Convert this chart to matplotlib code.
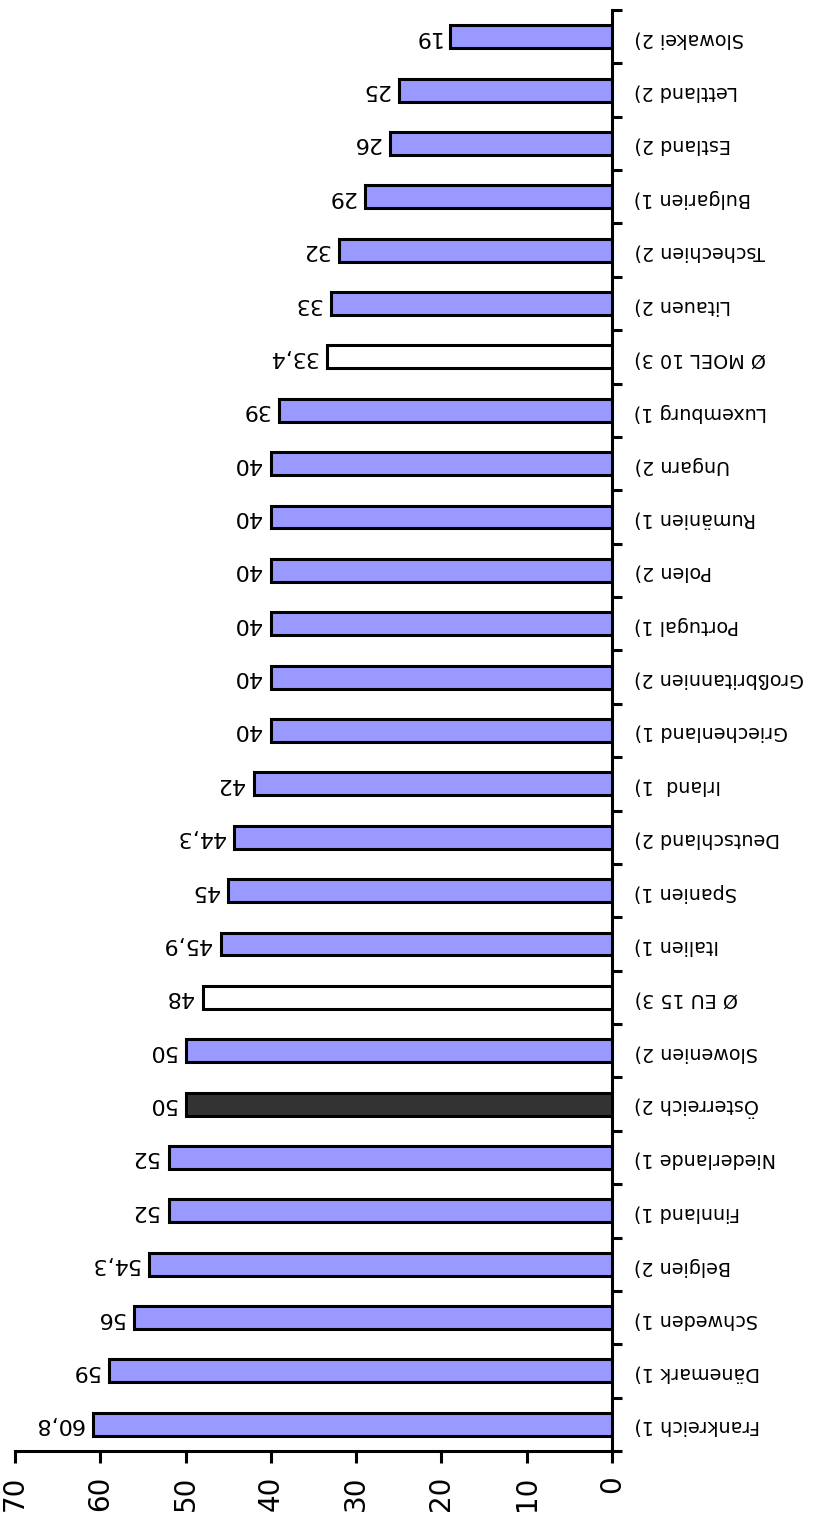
import matplotlib
matplotlib.use("Agg")
import matplotlib.pyplot as plt
import numpy as np

# Categories listed from the bottom of the chart to the top
categories = [
    "Frankreich 1)", "Dänemark 1)", "Schweden 1)", "Belgien 2)", "Finnland 1)",
    "Niederlande 1)", "Österreich 2)", "Slowenien 2)", "Ø EU 15 3)", "Italien 1)",
    "Spanien 1)", "Deutschland 2)", "Irland  1)", "Griechenland 1)",
    "Großbritannien 2)", "Portugal 1)", "Polen 2)", "Rumänien 1)", "Ungarn 2)",
    "Luxemburg 1)", "Ø MOEL 10 3)", "Litauen 2)", "Tschechien 2)",
    "Bulgarien 1)", "Estland 2)", "Lettland 2)", "Slowakei 2)",
]
values = [
    60.8, 59, 56, 54.3, 52, 52, 50, 50, 48, 45.9, 45, 44.3, 42, 40, 40, 40,
    40, 40, 40, 39, 33.4, 33, 32, 29, 26, 25, 19,
]
kinds = [
    "c", "c", "c", "c", "c", "c", "home", "c", "avg", "c", "c", "c", "c", "c",
    "c", "c", "c", "c", "c", "c", "avg", "c", "c", "c", "c", "c", "c",
]
value_ticks = [0, 10, 20, 30, 40, 50, 60, 70]

colour_map = {"c": "#9999FF", "home": "#333333", "avg": "#FFFFFF"}
colours = [colour_map[k] for k in kinds]

fig = plt.figure(figsize=(8.16, 15.21), dpi=100)
ax = fig.add_axes([15 / 816, 70 / 1521, (612 - 15) / 816, (1511 - 70) / 1521])

y = np.arange(len(categories))
ax.barh(y, values, height=0.43, color=colours, edgecolor="black", linewidth=2.2,
        zorder=3)

ax.set_xlim(70, 0)
ax.set_ylim(-0.5, len(categories) - 0.5)

# Value labels, turned upside down like the rest of the chart
for yi, v in zip(y, values):
    txt = f"{v:g}".replace(".", ",")
    ax.annotate(txt, (v, yi), xytext=(-7, 0), textcoords="offset points",
                rotation=180, ha="right", va="center", fontsize=16,
                family="DejaVu Sans")

# Spines: category axis on the right, value axis at the bottom
ax.spines["left"].set_visible(False)
ax.spines["top"].set_visible(False)
ax.spines["right"].set_linewidth(2.2)
ax.spines["bottom"].set_linewidth(2.2)

ax.yaxis.tick_right()
ax.set_yticks(y)
ax.set_yticklabels(categories, rotation=180, fontsize=13.8,
                   family="DejaVu Sans")
ax.set_yticks(np.arange(-0.5, len(categories), 1.0), minor=True)
ax.tick_params(axis="y", which="major", length=0, pad=16)
ax.tick_params(axis="y", which="minor", length=7, width=2.2, direction="out")

ax.set_xticks(value_ticks)
ax.set_xticklabels([str(t) for t in value_ticks], rotation=90, fontsize=20,
                   family="DejaVu Sans")
ax.tick_params(axis="x", length=8.5, width=2.2, direction="out", pad=9)

fig.savefig("out.png", dpi=100)
